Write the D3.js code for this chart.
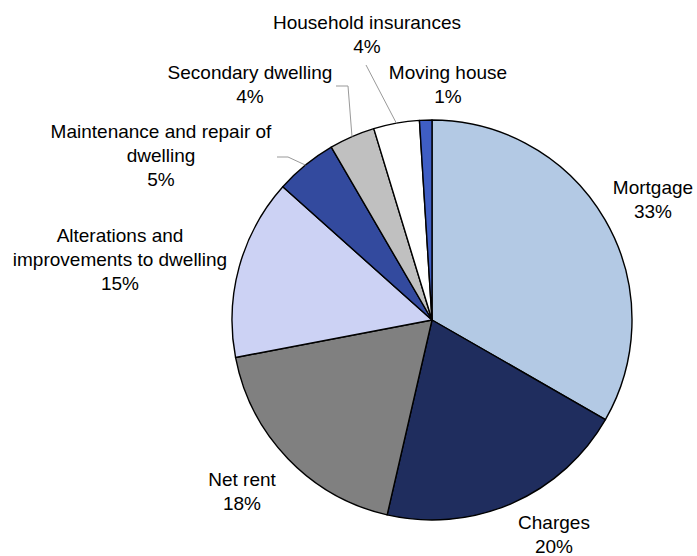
<!DOCTYPE html>
<html>
<head>
<meta charset="utf-8">
<script src="https://cdn.jsdelivr.net/npm/d3@7"></script>
<style>
  html, body { margin: 0; padding: 0; background: #fff; }
  svg { display: block; }
  text { font-family: "Liberation Sans", Arial, sans-serif; font-size: 19px; fill: #000; }
</style>
</head>
<body>
<svg id="chart" width="697" height="556"></svg>
<script>
// Housing expenditure shares (percent of total)
const categories = [
  "Mortgage",
  "Charges",
  "Net rent",
  "Alterations and improvements to dwelling",
  "Maintenance and repair of dwelling",
  "Secondary dwelling",
  "Household insurances",
  "Moving house"
];
const shares = [33.3, 20.3, 18.4, 14.6, 5.0, 3.7, 3.7, 1.0];
const sliceColors = ["#b3c9e4", "#1f2d5e", "#808080", "#ccd2f4", "#334a9e", "#c0c0c0", "#ffffff", "#3f5ec4"];

// Label layout: text lines, anchor centre, first baseline
const labelLines = [
  ["Mortgage"],
  ["Charges"],
  ["Net rent"],
  ["Alterations and", "improvements to dwelling"],
  ["Maintenance and repair of", "dwelling"],
  ["Secondary dwelling"],
  ["Household insurances"],
  ["Moving house"]
];
const labelPos = [
  [653, 194], [554, 529], [242, 486], [120, 242],
  [161, 138], [250, 79], [367, 29], [448, 79]
];
// Leader line bends (after the point on the rim), null = none
const leaderBends = [
  null, null, null, null,
  [[288, 157], [277, 157]],
  [[348, 86], [336, 86]],
  [[366, 65]],
  null
];

const cx = 432, cy = 320, r = 200, lineH = 24;
const svg = d3.select("#chart");
const g = svg.append("g").attr("transform", `translate(${cx},${cy})`);

const pie = d3.pie().sort(null).value(d => d)(shares);
const arc = d3.arc().innerRadius(0).outerRadius(r);

g.selectAll("path.slice")
  .data(pie)
  .join("path")
  .attr("class", "slice")
  .attr("d", arc)
  .attr("fill", (d, i) => sliceColors[i])
  .attr("stroke", "#000")
  .attr("stroke-width", 1.4)
  .attr("stroke-linejoin", "round");

// Leader lines from the rim to the labels
const rim = d3.arc().innerRadius(r).outerRadius(r);
pie.forEach((d, i) => {
  const bends = leaderBends[i];
  if (!bends) return;
  const [px, py] = rim.centroid(d);
  const pts = [[px + cx, py + cy], ...bends];
  svg.append("path")
    .attr("d", d3.line()(pts))
    .attr("fill", "none")
    .attr("stroke", "#999")
    .attr("stroke-width", 1);
});

// Labels: category name lines followed by the rounded share
const fmt = v => d3.format(".0f")(v) + "%";
pie.forEach((d, i) => {
  const lines = [...labelLines[i], fmt(shares[i])];
  const [x, y] = labelPos[i];
  const t = svg.append("text").attr("text-anchor", "middle");
  lines.forEach((ln, k) => {
    t.append("tspan").attr("x", x).attr("y", y + k * lineH).text(ln);
  });
});
</script>
</body>
</html>
